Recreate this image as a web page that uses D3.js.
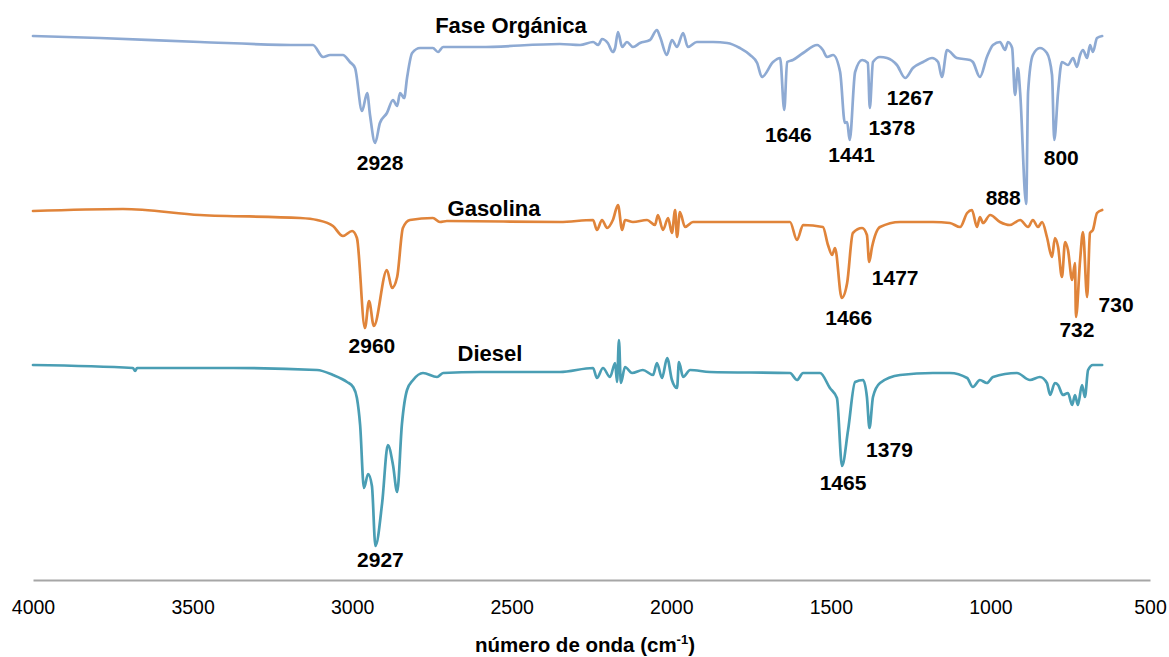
<!DOCTYPE html>
<html>
<head>
<meta charset="utf-8">
<script src="https://cdn.jsdelivr.net/npm/d3@7"></script>
<style>
  html, body { margin: 0; padding: 0; background: #fff; }
  svg { display: block; }
  text { font-family: "Liberation Sans", Arial, sans-serif; }
</style>
</head>
<body>
<svg id="chart" width="1169" height="657"></svg>
<script>
// FTIR spectra: [wavenumber (cm-1), transmittance offset for stacking]
const faseOrganica = [
  [4000,108.8],[3790,108.4],[3477,107.6],[3163,107],[3123,107],[3091,104.6],[3069,105],[3029,105],
  [3007,103.6],[2991,102.4],[2969,93.8],[2953,97.4],[2944,93],[2928,87.4],[2913,91.4],[2891,93.4],
  [2872,96],[2859,94.8],[2850,97.4],[2837,96.4],[2828,100.4],[2812,105.4],[2787,106.4],[2747,106.4],
  [2731,105.6],[2715,106.6],[2599,106.6],[2349,107.2],[2286,107],[2245,107.6],[2229,107],[2217,108.2],
  [2199,107.4],[2183,105.6],[2176,106.4],[2167,109.6],[2154,106.6],[2139,107.6],[2120,106.6],[2098,107.4],
  [2067,108],[2045,110],[2035,108.6],[2014,105],[1998,108],[1982,106.6],[1963,109.4],[1948,106.6],
  [1920,107.6],[1869,107.6],[1825,107.4],[1785,106.4],[1753,105],[1731,103.4],[1716,100.6],[1681,103.6],
  [1659,104.4],[1646,94],[1637,103.6],[1619,104],[1587,105.4],[1543,107],[1525,106],[1512,104.6],
  [1493,105],[1471,101.6],[1456,91.4],[1449,91.6],[1441,88],[1424,101.6],[1402,104],[1384,103.4],
  [1378,94.4],[1368,103.6],[1346,104.6],[1324,104.4],[1293,103],[1267,100.4],[1243,102.4],[1211,103.6],
  [1183,104.4],[1164,103.6],[1152,100.6],[1136,106],[1105,104.4],[1064,104],[1055,103.6],[1033,100.6],
  [1011,104.6],[992,107],[970,107.6],[954,106],[945,107.6],[932,106.4],[923,97],[914,102.4],
  [907,97.6],[888,75.2],[882,97.6],[867,105],[845,106.4],[823,105.4],[807,101],[800,88],
  [788,97.6],[776,103.6],[757,103],[741,104.4],[729,102.6],[719,105],[710,106],[697,104.4],
  [688,107],[679,105.6],[666,108.4],[650,108.8]
];

const gasolina = [
  [4000,73.8],[3718,74.2],[3477,73],[3163,72.4],[3110,72],[3060,70.8],[3029,68.8],[3000,69.8],
  [2985,68.4],[2960,50.4],[2947,55.8],[2932,50.8],[2891,62],[2875,58.4],[2859,60.6],[2841,70.4],
  [2819,72],[2747,72.4],[2725,71.6],[2703,71.8],[2349,71.6],[2245,72],[2233,70],[2217,72],
  [2201,70.4],[2183,72],[2167,75],[2154,70],[2145,72],[2120,71.6],[2076,72],[2051,71],
  [2042,73],[2026,70],[2010,72.4],[1998,69.4],[1988,74],[1982,68.6],[1973,73.6],[1957,70.6],
  [1932,71.6],[1628,71.6],[1606,68],[1587,71],[1525,70.6],[1509,67],[1496,65],[1487,66.4],
  [1466,56.4],[1449,59.4],[1431,69.4],[1402,70.4],[1387,69],[1380,63.6],[1371,66.6],[1346,70.6],
  [1283,71.6],[1230,71.6],[1180,71.6],[1127,71.4],[1095,70.6],[1073,73.4],[1058,74],[1042,70.6],
  [1033,72.6],[1023,71.4],[1001,73],[970,71.6],[939,71],[907,72],[882,70.6],[867,72],
  [851,70.6],[838,71.6],[823,68.6],[807,64.6],[798,68.4],[788,66.6],[776,60.6],[766,67.6],
  [757,66],[744,60],[735,63.4],[732,52.6],[719,64],[710,69.6],[697,56.6],[688,69.4],
  [679,70],[666,73.4],[650,74]
];

const diesel = [
  [4000,43],[3687,42.4],[3680,41.8],[3674,42.4],[3373,42.4],[3110,42],[3060,41],[3016,39.6],
  [2997,38.6],[2985,36.4],[2975,31],[2963,18.4],[2950,21.2],[2938,18.8],[2927,6.8],[2906,15.4],
  [2888,27],[2872,23],[2859,17.6],[2844,31.2],[2828,38],[2809,40],[2778,41.4],[2734,40.6],
  [2715,41.4],[2599,41.6],[2349,41.6],[2245,42.4],[2233,40.4],[2214,42.4],[2192,40.6],[2176,43.4],
  [2170,39.6],[2164,48],[2158,39.4],[2145,42.6],[2123,41.4],[2089,42],[2057,41],[2045,43.4],
  [2029,40.4],[2013,44.4],[1998,40],[1982,38.4],[1976,43.6],[1963,40.6],[1941,42],[1879,41.6],
  [1628,41.4],[1606,40],[1587,41.4],[1534,41.4],[1503,38.4],[1481,36.4],[1465,22.8],[1446,30],
  [1424,39.6],[1399,40],[1387,36.6],[1379,30.4],[1368,36.6],[1346,39.4],[1283,41],[1180,41.4],
  [1127,41.4],[1073,40.4],[1055,38.6],[1033,40],[1011,39.4],[992,40.6],[917,41.4],[876,40],
  [845,40.6],[823,39.4],[813,37],[798,39.4],[788,39],[773,37],[757,37.4],[744,35],
  [735,37],[726,35],[713,39],[704,36.6],[694,42],[679,43],[650,43]
];

const seriesNames = ["Fase Orgánica", "Gasolina", "Diesel"];
const seriesColors = ["#8eaad3", "#e0843a", "#4a9eb4"];

// Peak annotations: label text and the wavenumber of the band it marks
const peaksFase = [["2928",2928],["1646",1646],["1441",1441],["1378",1378],["1267",1267],["888",888],["800",800]];
const peaksGasolina = [["2960",2960],["1466",1466],["1477",1380],["732",732],["730",697]];
const peaksDiesel = [["2927",2927],["1465",1465],["1379",1379]];

const xTicks = [4000, 3500, 3000, 2500, 2000, 1500, 1000, 500];
const xTitle = "número de onda (cm";
const xTitleSup = "-1";

// ---- layout ----
const svg = d3.select("#chart");
const plot = { left: 33, right: 1150, top: 20, bottom: 580 };

const x = d3.scaleLinear().domain([4000, 500]).range([plot.left, plot.right]);
const y = d3.scaleLinear().domain([0, 112]).range([plot.bottom, plot.top]);

const line = d3.line()
  .x(d => x(d[0]))
  .y(d => y(d[1]))
  .curve(d3.curveMonotoneX);

const spectra = [faseOrganica, gasolina, diesel];
const peakSets = [peaksFase, peaksGasolina, peaksDiesel];

// label offsets (px) relative to the marked point
const peakOffsets = [
  [[5,27],[4,32],[2,22],[22,27],[5,27],[-23,1],[7,25]],
  [[7,25],[7,27],[26,23],[1,20],[29,15]],
  [[5,21],[1,24],[20,29]]
];
const nameAnchors = [[511,33],[494,216],[490,361]];

// spectra lines
spectra.forEach((data, i) => {
  svg.append("path")
    .datum(data)
    .attr("fill", "none")
    .attr("stroke", seriesColors[i])
    .attr("stroke-width", 2.7)
    .attr("stroke-linejoin", "round")
    .attr("stroke-linecap", "round")
    .attr("d", line);
});

// series names
seriesNames.forEach((name, i) => {
  svg.append("text")
    .attr("x", nameAnchors[i][0])
    .attr("y", nameAnchors[i][1])
    .attr("text-anchor", "middle")
    .attr("font-size", 22)
    .attr("font-weight", "bold")
    .attr("fill", "#000")
    .text(name);
});

// peak labels
peakSets.forEach((peaks, i) => {
  const data = spectra[i];
  peaks.forEach(([label, wn], j) => {
    const pt = data.find(d => d[0] === wn);
    const [dx, dy] = peakOffsets[i][j];
    svg.append("text")
      .attr("x", x(pt[0]) + dx)
      .attr("y", y(pt[1]) + dy)
      .attr("text-anchor", "middle")
      .attr("font-size", 21)
      .attr("font-weight", "bold")
      .attr("fill", "#000")
      .text(label);
  });
});

// x axis
const axis = d3.axisBottom(x).tickValues(xTicks).tickSize(0).tickPadding(20).tickFormat(d3.format("d"));
const gAxis = svg.append("g")
  .attr("transform", `translate(0,${plot.bottom})`)
  .call(axis);
gAxis.select(".domain").attr("stroke", "#a6a6a6").attr("stroke-width", 2);
gAxis.selectAll(".tick text")
  .attr("font-size", 19.5)
  .attr("fill", "#000")
  .attr("font-family", "'Liberation Sans', Arial, sans-serif");

// axis title
const title = svg.append("text")
  .attr("x", 585)
  .attr("y", 652)
  .attr("text-anchor", "middle")
  .attr("font-size", 20.5)
  .attr("font-weight", "bold")
  .attr("fill", "#000");
title.append("tspan").text(xTitle);
title.append("tspan").attr("font-size", 13).attr("dy", -8).text(xTitleSup);
title.append("tspan").attr("dy", 8).text(")");
</script>
</body>
</html>
